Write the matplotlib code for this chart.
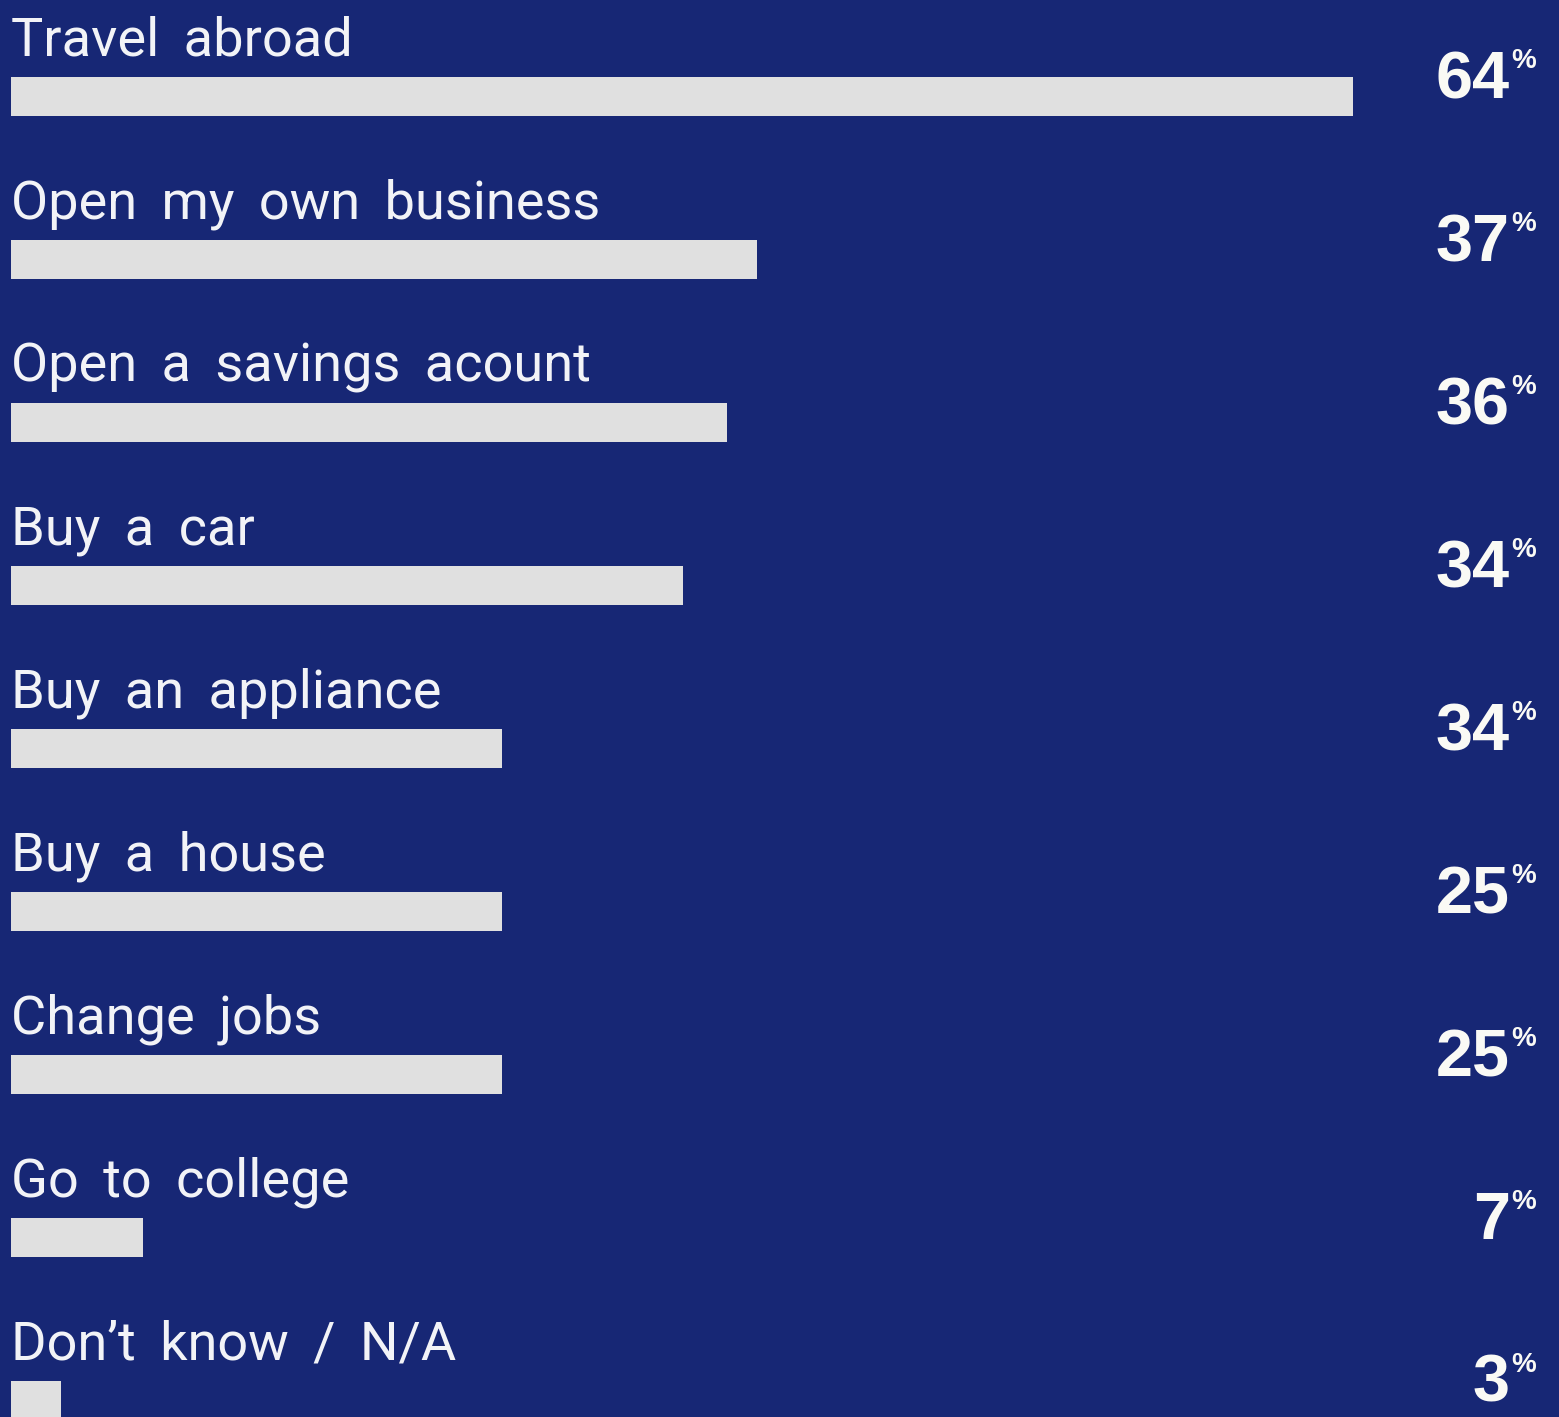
import matplotlib.pyplot as plt

labels = [
    "Travel abroad",
    "Open my own business",
    "Open a savings acount",
    "Buy a car",
    "Buy an appliance",
    "Buy a house",
    "Change jobs",
    "Go to college",
    "Don\u2019t know / N/A",
]
# printed percentages
values = [64, 37, 36, 34, 34, 25, 25, 7, 3]
# bar lengths as drawn in the picture (in percent units)
bar_lengths = [63.9, 35.5, 34.1, 32.0, 23.4, 23.4, 23.4, 6.3, 2.4]

bg = "#172775"
bar_color = "#e0e0e0"

W, H = 1559, 1417
fig = plt.figure(figsize=(W / 100, H / 100), dpi=100, facecolor=bg)
ax = fig.add_axes([0, 0, 1, 1], facecolor=bg)

px_per_unit = 21.0
row_px = 163.0
x0_px = 11
y0_px = 96.5

ax.set_xlim(-x0_px / px_per_unit, (W - x0_px) / px_per_unit)
ax.set_ylim((H - y0_px) / row_px, -y0_px / row_px)
ax.axis("off")

rows = list(range(len(labels)))
ax.barh(rows, bar_lengths, height=39 / row_px, left=0, color=bar_color)

num_x = (1510 - x0_px) / px_per_unit
pct_x = (1511 - x0_px) / px_per_unit
for i, (lab, v) in enumerate(zip(labels, values)):
    # labels in the picture have wide word spacing
    ax.text(0, i - 41.5 / row_px, lab.replace(" ", " \u2009"), ha="left", va="baseline",
            fontsize=39, family=["Roboto", "DejaVu Sans"], color="#f2f3f7")
    ax.text(num_x, i + 1.5 / row_px, f"{v}", ha="right", va="baseline",
            fontsize=48, family="Liberation Sans", fontweight="bold", color="#fafaf5")
    ax.text(pct_x, i - 49 / row_px, "%", ha="left", va="top",
            fontsize=20, family="Liberation Sans", fontweight="bold", color="#fafaf5")

fig.savefig("out.png", dpi=100, facecolor=bg)
